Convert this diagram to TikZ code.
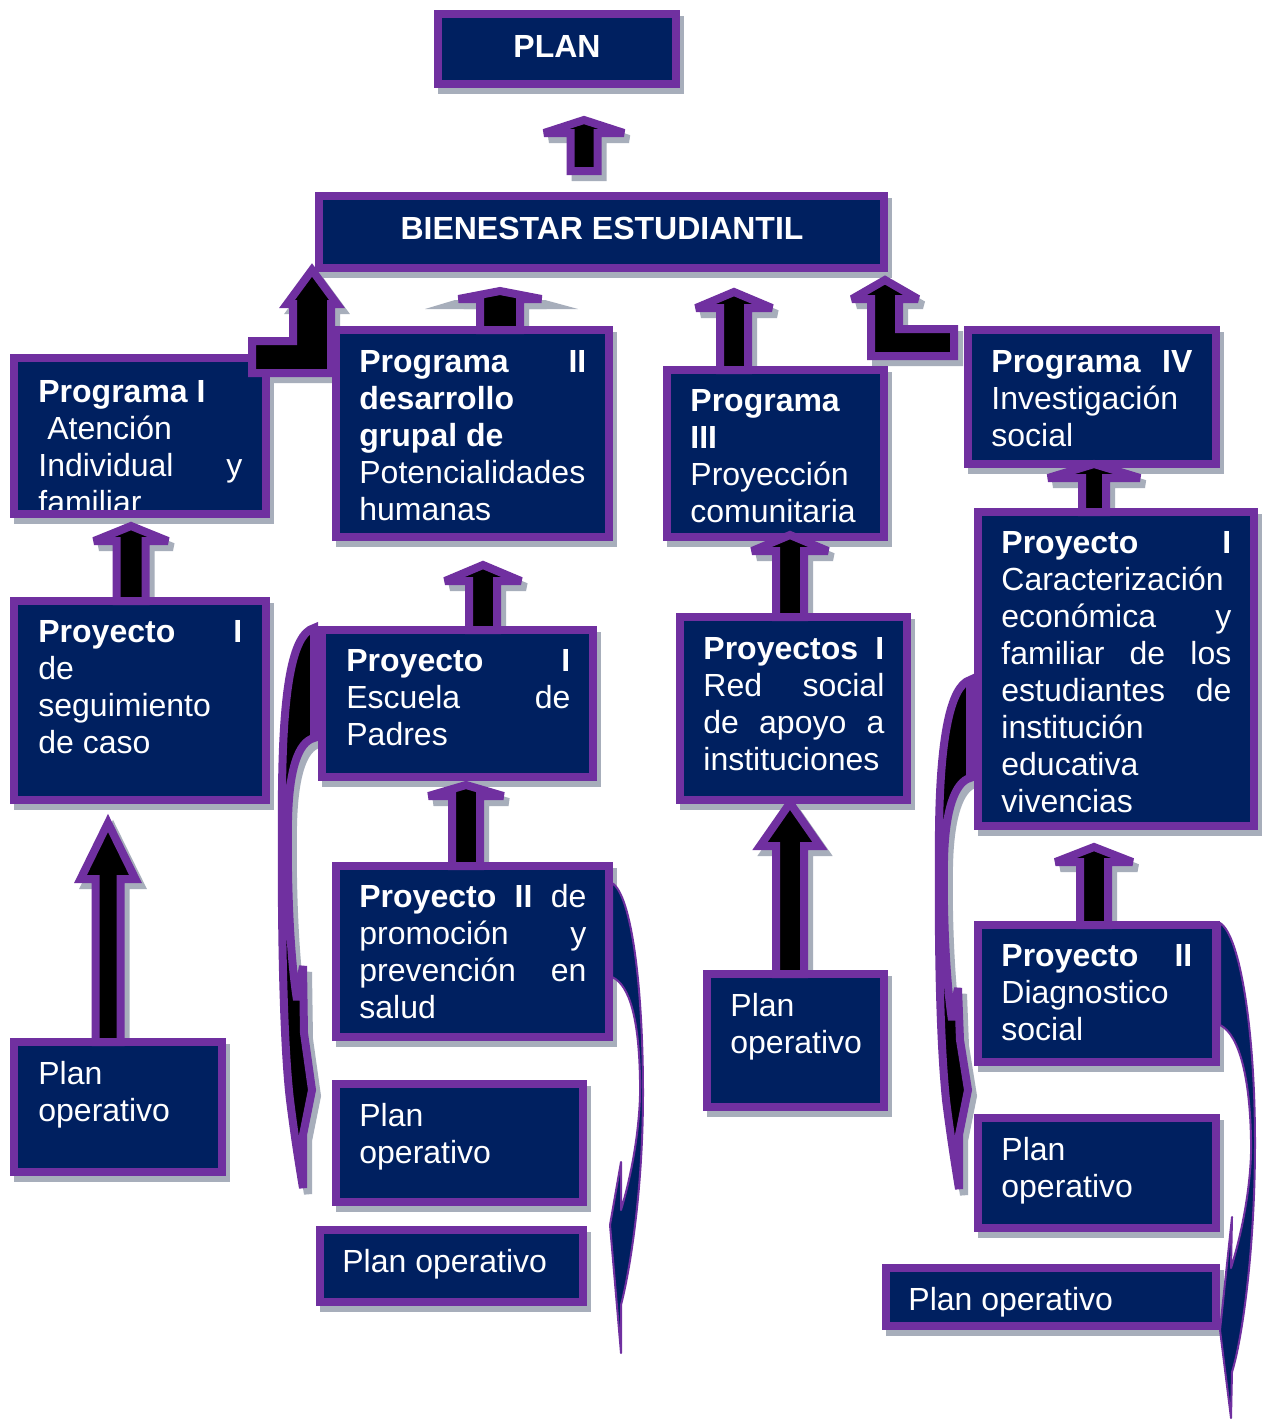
\documentclass[tikz,border=0pt]{standalone}
\usepackage{fontspec}
\setmainfont{Liberation Sans}
\definecolor{navy}{HTML}{002060}
\definecolor{navyd}{HTML}{001A4C}
\definecolor{purp}{HTML}{7030A0}
\definecolor{shad}{HTML}{A7AEBB}
\newcommand\jl[1]{\makebox[\linewidth][s]{#1}}
\newcommand\bxs[5]{\fill[sh] (#2+4,#3+6) rectangle (#4+4,#5+6);}
\newcommand\bx[5]{%
  \pgfmathsetmacro\bw{(#4-#2-8)/2}\pgfmathsetmacro\bh{(#5-#3-8)/2}%
  \node[box, minimum width=\bw pt, minimum height=\bh pt] (#1) at ({(#2+#4)/2},{(#3+#5)/2}) {};}
\def\boxlist{plan/434/10/680/88, bien/315/192/888/272, pI/10/354/270/518, pII/332/326/613/541, pIII/663/366/888/541, pIV/964/326/1220/468, sg/10/597/270/804, esc/318/626/597/781, red/676/613/911/804, car/974/508/1258/830, pro/332/862/613/1041, po1/10/1038/226/1176, po3/703/970/888/1111, dia/974/921/1220/1066, po2a/332/1080/587/1206, po2b/316/1226/587/1306, po4a/974/1114/1220/1232, po4b/882/1264/1220/1330}
\def\arrlist{584/171/133/120/13.5/40, 500/330/299/291/20/41.5, 734/370/308/292/14/38, 1094/512/478/464/12/46, 131/601/541/526/14.5/37, 483/630/581/565/14/38, 466/866/796/785/14/37.5, 790/617/551/535/14/38, 790/974/846/803/14/30, 108/1042/879/823/12.5/27.5, 1094/925/862/847/14/38.5}
\begin{document}
\begin{tikzpicture}[x=0.5pt,y=-0.5pt,
  box/.style={draw=purp, fill=navy, line width=4pt, inner sep=0pt, rectangle},
  blk/.style={draw=purp, fill=black, line width=4pt, line join=miter, miter limit=3},
  sh/.style={fill=shad},
  shl/.style={fill=shad, draw=shad, line width=4pt, line join=miter, miter limit=3, shift={(5,6)}},
  txt/.style={text=white, inner sep=0pt, anchor=base west, font=\fontsize{16pt}{18.5pt}\selectfont},
  ctxt/.style={text=white, inner sep=0pt, font=\fontsize{16pt}{18.5pt}\selectfont\bfseries},
  thinarr/.style={draw=purp, fill=navy, line width=1pt, line join=round}]
\useasboundingbox[fill=white] (0,0) rectangle (1263,1419);
% ---------- shadows ----------
\foreach \n/\xa/\ya/\xb/\yb in \boxlist {\bxs{\n}{\xa}{\ya}{\xb}{\yb}}
\foreach \c/\yb/\yh/\yt/\s/\h in \arrlist {
  \path[shl] (\c-\s,\yb) -- (\c-\s,\yh) -- (\c-\h,\yh) -- (\c,\yt) -- (\c+\h,\yh) -- (\c+\s,\yh) -- (\c+\s,\yb) -- cycle;}
\path[sh] (425,309) -- (455,300) -- (545,300) -- (578,309) -- cycle;
\path[shl] (252,341) -- (293,341) -- (293,304) -- (287,304) -- (312,270) -- (337,304) -- (331,304) -- (331,373) -- (252,373) -- cycle;
\path[shl] (954,329) -- (899,329) -- (899,299) -- (918,299) -- (885,280) -- (852,299) -- (871,299) -- (871,356) -- (954,356) -- cycle;
\path[shl] (314,628) .. controls (292,634) and (283,690) .. (282,790) .. controls (281,920) and (283,1040) .. (290,1100) .. controls (295,1140) and (300,1170) .. (303,1188) -- (303,1135) -- (312,1090) -- (304,1033) -- (303,966) -- (297,1000) .. controls (289,950) and (287,870) .. (288,820) .. controls (289,770) and (298,742) .. (314,738) -- cycle;
\path[shl] (970,680) .. controls (950,686) and (940,740) .. (939,830) .. controls (938,950) and (940,1040) .. (946,1100) .. controls (951,1140) and (956,1170) .. (959,1189) -- (959,1135) -- (968,1090) -- (960,1040) -- (958,988) -- (952,1020) .. controls (945,975) and (943,900) .. (944,860) .. controls (945,810) and (955,782) .. (970,778) -- cycle;
% ---------- boxes ----------
\foreach \n/\xa/\ya/\xb/\yb in \boxlist {\bx{\n}{\xa}{\ya}{\xb}{\yb}}
% ---------- texts ----------
\node[ctxt] (tplan) at (557,46) {PLAN};
\node[ctxt] (tbien) at (602,228) {BIENESTAR ESTUDIANTIL};
\node[txt] (tpI) at (38,402) {\parbox[t]{102pt}{\textbf{Programa I}\\ \hspace*{4.5pt}Atención\\ \jl{Individual y}\\ familiar}};
\draw[purp, line width=4pt] (14,358) rectangle (266,514);
\node[txt] (tpII) at (359,372) {\parbox[t]{113.5pt}{\jl{\textbf{Programa} \textbf{II}}\\ \textbf{desarrollo}\\ \textbf{grupal de}\\ Potencialidades\\ humanas}};
\node[txt] (tpIII) at (690,411) {\parbox[t]{100pt}{\textbf{Programa}\\ \textbf{III}\\ Proyección\\ comunitaria}};
\node[txt] (tpIV) at (991,372) {\parbox[t]{100.5pt}{\jl{\textbf{Programa} \textbf{IV}}\\ Investigación\\ social}};
\node[txt] (tsg) at (38,642) {\parbox[t]{102pt}{\jl{\textbf{Proyecto} \textbf{I}}\\ de\\ seguimiento\\ de caso}};
\node[txt] (tesc) at (346,671) {\parbox[t]{112pt}{\jl{\textbf{Proyecto} \textbf{I}}\\ \jl{Escuela de}\\ Padres}};
\node[txt] (tred) at (703,659) {\parbox[t]{90.5pt}{\jl{\textbf{Proyectos} \textbf{I}}\\ \jl{Red social}\\ \jl{de apoyo a}\\ instituciones}};
\node[txt] (tcar) at (1001,553) {\parbox[t]{115pt}{\jl{\textbf{Proyecto} \textbf{I}}\\ Caracterización\\ \jl{económica y}\\ \jl{familiar de los}\\ \jl{estudiantes de}\\ institución\\ educativa\\ vivencias}};
\node[txt] (tpro) at (359,907) {\parbox[t]{113.5pt}{\jl{\textbf{Proyecto II} de}\\ \jl{promoción y}\\ \jl{prevención en}\\ salud}};
\node[txt] (tdia) at (1001,966) {\parbox[t]{95.5pt}{\jl{\textbf{Proyecto} \textbf{II}}\\ Diagnostico\\ social}};
\node[txt] (tpo1) at (38,1084) {\parbox[t]{90pt}{Plan\\ operativo}};
\node[txt] (tpo3) at (730,1016) {\parbox[t]{80pt}{Plan\\ operativo}};
\node[txt] (tpo2a) at (359,1126) {\parbox[t]{100pt}{Plan\\ operativo}};
\node[txt] (tpo2b) at (342,1272) {Plan operativo};
\node[txt] (tpo4a) at (1001,1160) {\parbox[t]{100pt}{Plan\\ operativo}};
\node[txt] (tpo4b) at (908,1310) {Plan operativo};
% ---------- block arrows ----------
\foreach \c/\yb/\yh/\yt/\s/\h in \arrlist {
  \draw[blk] (\c-\s,\yb) -- (\c-\s,\yh) -- (\c-\h,\yh) -- (\c,\yt) -- (\c+\h,\yh) -- (\c+\s,\yh) -- (\c+\s,\yb) -- cycle;}
\draw[blk] (252,341) -- (293,341) -- (293,304) -- (287,304) -- (312,270) -- (337,304) -- (331,304) -- (331,373) -- (252,373) -- cycle;
\draw[blk] (954,329) -- (899,329) -- (899,299) -- (918,299) -- (885,280) -- (852,299) -- (871,299) -- (871,356) -- (954,356) -- cycle;
% ---------- curved arrows ----------
\draw[blk] (314,628) .. controls (292,634) and (283,690) .. (282,790) .. controls (281,920) and (283,1040) .. (290,1100) .. controls (295,1140) and (300,1170) .. (303,1188) -- (303,1135) -- (312,1090) -- (304,1033) -- (303,966) -- (297,1000) .. controls (289,950) and (287,870) .. (288,820) .. controls (289,770) and (298,742) .. (314,738) -- cycle;
\draw[blk] (970,680) .. controls (950,686) and (940,740) .. (939,830) .. controls (938,950) and (940,1040) .. (946,1100) .. controls (951,1140) and (956,1170) .. (959,1189) -- (959,1135) -- (968,1090) -- (960,1040) -- (958,988) -- (952,1020) .. controls (945,975) and (943,900) .. (944,860) .. controls (945,810) and (955,782) .. (970,778) -- cycle;
\draw[thinarr] (612,883) .. controls (632,895) and (643,990) .. (643,1093) .. controls (643,1190) and (630,1270) .. (621,1305) -- (621,1353) -- (610,1225) -- (621,1162) -- (621,1210) .. controls (636,1160) and (641,1110) .. (640,1080) .. controls (639,1020) and (630,985) .. (612,977) -- cycle;
\draw[thinarr] (1220,923) .. controls (1240,935) and (1255,1030) .. (1255,1143) .. controls (1255,1250) and (1242,1340) .. (1232,1372) -- (1231,1418) -- (1220,1330) -- (1232,1217) -- (1231,1268) .. controls (1246,1220) and (1252,1170) .. (1251,1140) .. controls (1250,1080) and (1240,1035) .. (1220,1025) -- cycle;
\end{tikzpicture}
\end{document}
